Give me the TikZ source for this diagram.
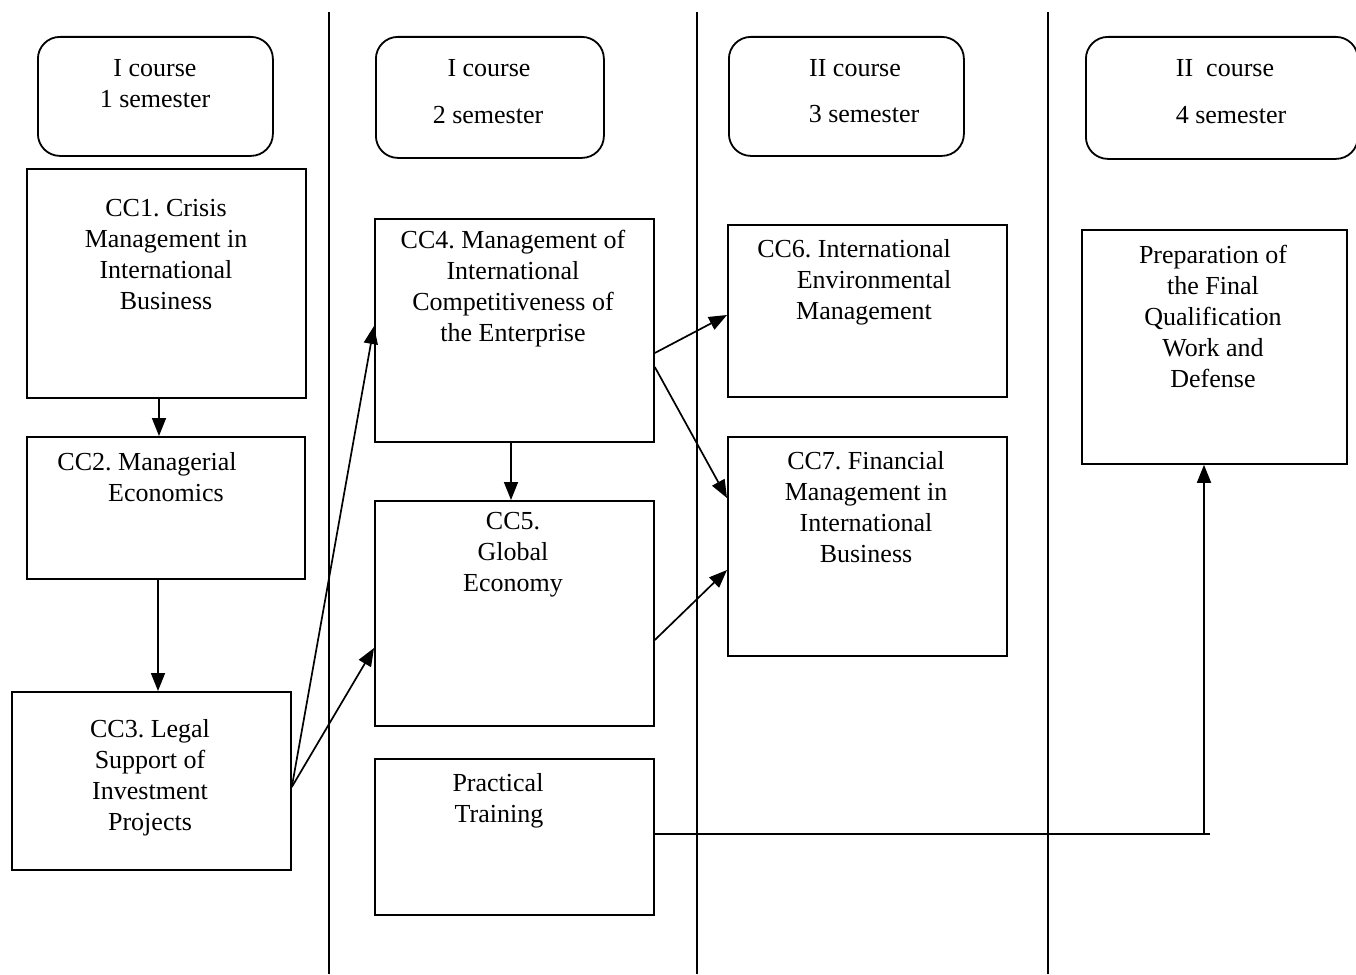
\documentclass[tikz,border=0pt]{standalone}
\usepackage{fontspec}
\setmainfont{Liberation Serif}
\usetikzlibrary{arrows.meta,calc}
\begin{document}
\frenchspacing
\begin{tikzpicture}[x=1pt,y=-1pt,
  box/.style={draw,line width=1.8pt,inner sep=0pt,anchor=north west},
  hdr/.style={box,rounded corners=22pt},
  txt/.style={font=\fontsize{26}{31}\selectfont,align=center,inner sep=0pt},
  one/.style={txt,text height=18pt,text depth=6pt,yshift=-3pt},
  conn/.style={line width=1.7pt},
  arr/.style={conn,-{Triangle[length=18pt,width=14pt]}},
  sep/.style={line width=2pt}]
\useasboundingbox (0,0) rectangle (1356,974);
\begin{scope}
\clip (0,0) rectangle (1356,974);
% separators
\coordinate (s1t) at (329,12); \coordinate (s1b) at (329,974);
\coordinate (s2t) at (697,12); \coordinate (s2b) at (697,974);
\coordinate (s3t) at (1048,12); \coordinate (s3b) at (1048,974);
\draw[sep] (s1t) -- (s1b);
\draw[sep] (s2t) -- (s2b);
\draw[sep] (s3t) -- (s3b);
% headers
\node[hdr,minimum width=235pt,minimum height=119pt] (h1) at (37,36) {};
\node[hdr,minimum width=228pt,minimum height=121pt] (h2) at (375,36) {};
\node[hdr,minimum width=235pt,minimum height=119pt] (h3) at (728,36) {};
\node[hdr,minimum width=272pt,minimum height=122pt] (h4) at (1085,36) {};
\end{scope}
\node[one] (h1a) at (155,67) {I course};
\node[one] (h1b) at (155,98) {1 semester};
\node[one] (h2a) at (489,67) {I course};
\node[one] (h2b) at (488,114) {2 semester};
\node[one] (h3a) at (855,67) {II course};
\node[one] (h3b) at (864,113) {3 semester};
\node[one] (h4a) at (1225,67) {II\ \ course};
\node[one] (h4b) at (1231,114) {4 semester};
% boxes
\node[box,minimum width=279pt,minimum height=229pt] (cc1) at (26,168) {};
\node[box,minimum width=278pt,minimum height=142pt] (cc2) at (26,436) {};
\node[box,minimum width=279pt,minimum height=178pt] (cc3) at (11,691) {};
\node[box,minimum width=279pt,minimum height=223pt] (cc4) at (374,218) {};
\node[box,minimum width=279pt,minimum height=225pt] (cc5) at (374,500) {};
\node[box,minimum width=279pt,minimum height=156pt] (pt) at (374,758) {};
\node[box,minimum width=279pt,minimum height=172pt] (cc6) at (727,224) {};
\node[box,minimum width=279pt,minimum height=219pt] (cc7) at (727,436) {};
\node[box,minimum width=265pt,minimum height=234pt] (fin) at (1081,229) {};
% texts
\node[txt] (cc1t) at (166,255) {CC1. Crisis\\Management in\\International\\Business};
\node[one] (cc2a) at (147,461) {CC2. Managerial};
\node[one] (cc2b) at (166,492) {Economics};
\node[txt] (cc3t) at (150,778) {CC3. Legal\\Support of\\Investment\\Projects};
\node[txt] (cc4t) at (513,289) {CC4. Management of\\International\\Competitiveness of\\the Enterprise};
\node[txt] (cc5t) at (513,555) {CC5.\\Global\\Economy};
\node[one] (pta) at (498,782) {Practical};
\node[one] (ptb) at (499,813) {Training};
\node[one] (cc6a) at (854,248) {CC6. International};
\node[one] (cc6b) at (874,279) {Environmental};
\node[one] (cc6c) at (864,310) {Management};
\node[txt] (cc7t) at (866,507) {CC7. Financial\\Management in\\International\\Business};
\node[txt] (fint) at (1213,316) {Preparation of\\the Final\\Qualification\\Work and\\Defense};
% connectors
\draw[arr] ($(cc1.south west)+(133,0)$) -- ($(cc2.north west)+(133,0)$);
\draw[arr] ($(cc2.south west)+(132,0)$) -- ($(cc3.north west)+(147,0)$);
\draw[arr] ($(cc3.north east)+(0,96)$) -- ($(cc4.north west)+(0,108)$);
\draw[arr] ($(cc3.north east)+(0,96)$) -- ($(cc5.north west)+(0,148)$);
\draw[arr] ($(cc4.south west)+(137,0)$) -- ($(cc5.north west)+(137,0)$);
\draw[arr] ($(cc4.north east)+(0,135)$) -- ($(cc6.north west)+(0,91)$);
\draw[arr] ($(cc4.north east)+(0,149)$) -- ($(cc7.north west)+(0,62)$);
\draw[arr] ($(cc5.north east)+(0,140)$) -- ($(cc7.north west)+(0,134)$);
\coordinate (turn) at (1204,834);
\coordinate (tailend) at (1210,834);
\draw[conn] ($(pt.north east)+(0,76)$) -- (tailend);
\draw[arr] (turn) -- ($(fin.south west)+(123,0)$);
\end{tikzpicture}
\end{document}
